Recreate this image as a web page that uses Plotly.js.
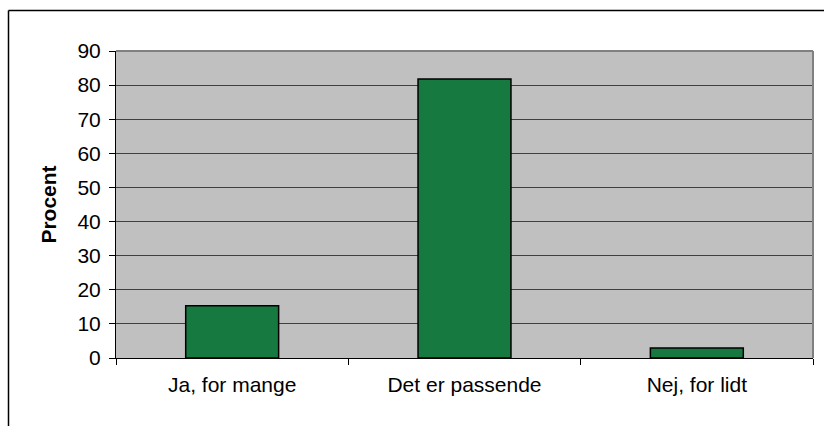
<!DOCTYPE html>
<html><head><meta charset="utf-8">
<script src="https://cdn.plot.ly/plotly-3.0.1.min.js"></script>
<style>html,body{margin:0;padding:0;background:#fff}#c{width:824px;height:426px}</style>
</head><body><div id="c"></div>
<script>
const categories = ["Ja, for mange", "Det er passende", "Nej, for lidt"];
const values = [15.3, 81.8, 2.9];
const yTicks = [0, 10, 20, 30, 40, 50, 60, 70, 80, 90];

const L = 116, R = 11, T = 51, B = 68, W = 824, H = 426;
const pw = W - L - R, ph = H - T - B;
const px = v => (v - L) / pw, py = v => (H - B - v) / ph;

const data = [{
  type: 'bar', x: categories, y: values,
  marker: {color: '#16793f', line: {color: '#000', width: 1.5}},
  width: 0.4, hoverinfo: 'none'
}];
const layout = {
  width: W, height: H,
  margin: {l: L, r: R, t: T, b: B, pad: 0},
  paper_bgcolor: '#fff', plot_bgcolor: '#c0c0c0',
  font: {family: 'Liberation Sans, Arial, sans-serif', size: 21, color: '#000'},
  showlegend: false,
  xaxis: {type: 'category', tickson: 'boundaries', ticks: 'outside', ticklen: 6, tickcolor: '#000',
    showline: true, linecolor: '#000', linewidth: 1, showgrid: false, zeroline: false,
    tickfont: {size: 21}, ticklabelstandoff: 8, fixedrange: true},
  yaxis: {range: [0, 90], tickvals: yTicks, ticks: 'outside', ticklen: 6, tickcolor: '#000',
    showline: true, linecolor: '#000', linewidth: 1, showgrid: true, gridcolor: '#404040', gridwidth: 1,
    zeroline: false, tickfont: {size: 21}, ticklabelstandoff: 4,
    title: {text: '<b>Procent</b>', font: {size: 21}, standoff: 15}, fixedrange: true},
  shapes: [
    {type: 'line', xref: 'paper', yref: 'paper', x0: 0, x1: 1, y0: 1, y1: 1, line: {color: '#808080', width: 2}},
    {type: 'line', xref: 'paper', yref: 'paper', x0: 1, x1: 1, y0: 0, y1: 1, line: {color: '#808080', width: 2}},
    {type: 'line', xref: 'paper', yref: 'paper', x0: px(8.5), x1: px(830), y0: py(10.5), y1: py(10.5),
      line: {color: '#000', width: 1.5}, layer: 'below'},
    {type: 'line', xref: 'paper', yref: 'paper', x0: px(8.5), x1: px(8.5), y0: py(10.5), y1: py(440),
      line: {color: '#000', width: 1.5}, layer: 'below'}
  ]
};
Plotly.newPlot('c', data, layout, {displayModeBar: false, staticPlot: true});
</script></body></html>
